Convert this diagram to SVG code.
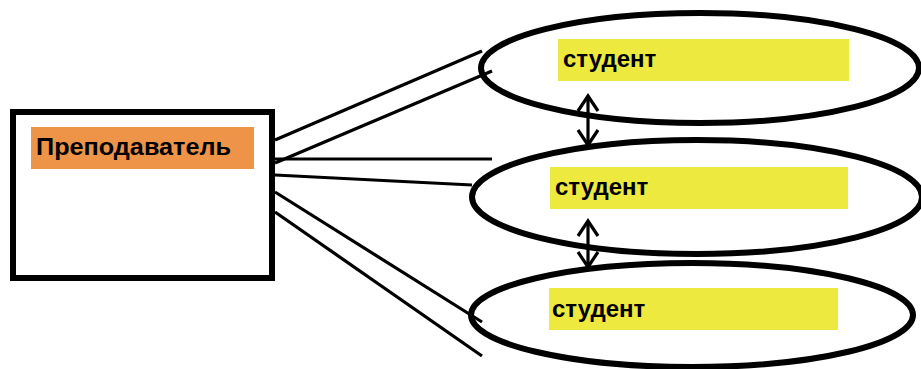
<svg xmlns="http://www.w3.org/2000/svg" width="921" height="369" viewBox="0 0 921 369">
<style>
.ln{stroke:#000;stroke-width:3.2;fill:none}
.ell{fill:none;stroke:#000;stroke-width:6}
.lbl{font-family:"Liberation Sans",Arial,sans-serif;font-weight:bold;font-size:24px;fill:#000}
.yb{fill:#EEE93E}
.ah{stroke:#000;stroke-width:3.2;fill:none}
</style>
<rect width="921" height="369" fill="#fff"/>
<g id="connectors">
<line class="ln" x1="275" y1="140" x2="482" y2="51"/>
<line class="ln" x1="275" y1="163" x2="492" y2="71"/>
<line class="ln" x1="275" y1="159" x2="492" y2="159"/>
<line class="ln" x1="275" y1="175" x2="472" y2="185"/>
<line class="ln" x1="275" y1="192" x2="482" y2="322"/>
<line class="ln" x1="275" y1="212" x2="482" y2="356"/>
<line class="ah" x1="588" y1="96" x2="588" y2="144"/>
<line class="ah" x1="588" y1="221" x2="588" y2="266"/>
<path class="ah" d="M578,111 L588,96 L598,111"/>
<path class="ah" d="M578,130 L588,145 L598,130"/>
<path class="ah" d="M578,236 L588,221 L598,236"/>
<path class="ah" d="M578,252 L588,267 L598,252"/>
</g>
<g id="teacher">
<rect x="13" y="112" width="259" height="166" fill="#fff" stroke="#000" stroke-width="6"/>
<rect x="31" y="127" width="223" height="42" fill="#ED9448"/>
<text class="lbl" x="36" y="155" textLength="195" lengthAdjust="spacingAndGlyphs">Преподаватель</text>
</g>
<g id="student1">
<ellipse class="ell" cx="700" cy="68" rx="219" ry="55"/>
<rect class="yb" x="558" y="39" width="291" height="42"/>
<text class="lbl" x="563" y="67">студент</text>
</g>
<g id="student2">
<ellipse class="ell" cx="697" cy="197" rx="225" ry="57"/>
<rect class="yb" x="550" y="167" width="298" height="42"/>
<text class="lbl" x="555" y="195">студент</text>
</g>
<g id="student3">
<ellipse class="ell" cx="692" cy="315" rx="221" ry="52"/>
<rect class="yb" x="549" y="288" width="289" height="42"/>
<text class="lbl" x="552" y="317">студент</text>
</g>
</svg>
